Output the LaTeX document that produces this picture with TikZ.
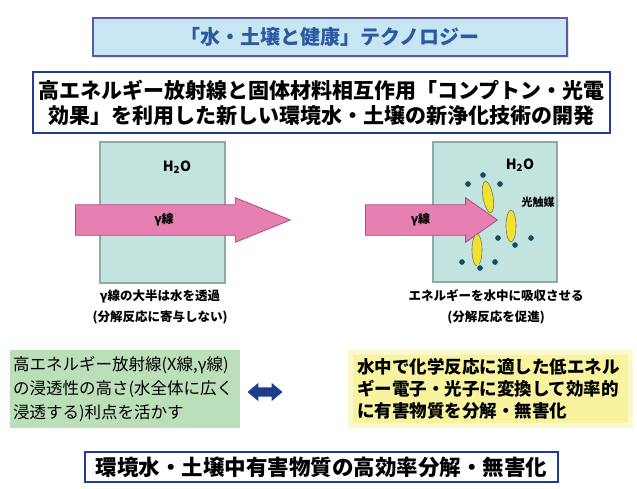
\documentclass[tikz,border=0pt]{standalone}
\usepackage{fontspec}
\setmainfont{Noto Sans CJK JP}
\usetikzlibrary{shapes.arrows,shadows}

\definecolor{titlefill}{HTML}{C8E6F2}
\definecolor{titleline}{HTML}{5A5AA8}
\definecolor{titletext}{HTML}{2C5AA0}
\definecolor{aimline}{HTML}{1F3C96}
\definecolor{waterfill}{HTML}{C2E3DE}
\definecolor{waterline}{HTML}{8FAAA8}
\definecolor{beamfill}{HTML}{E77FB0}
\definecolor{beamline}{HTML}{B04A86}
\definecolor{meritfill}{HTML}{BADFB9}
\definecolor{effectfill}{HTML}{F7F39E}
\definecolor{effectglow}{HTML}{FBF8CC}
\definecolor{twowayfill}{HTML}{1D3E8C}
\definecolor{rodfill}{HTML}{F2E22E}
\definecolor{dotfill}{HTML}{1E4A4A}

\begin{document}
\begin{tikzpicture}[x=1pt, y=-1pt, every node/.style={inner sep=0pt},
    titlebox/.style={draw=titleline, line width=1.6pt, fill=titlefill, text=titletext,
      drop shadow={shadow xshift=2pt, shadow yshift=-2pt, fill=gray!45},
      font=\fontsize{20}{24}\selectfont\bfseries},
    framebox/.style={draw=aimline, line width=2pt, fill=white, align=center,
      font=\fontsize{21}{25}\selectfont\bfseries},
    water/.style={draw=waterline, line width=1.2pt, fill=waterfill},
    beam/.style={single arrow, draw=beamline, fill=beamfill, line width=0.8pt,
      inner xsep=4pt, inner ysep=8.5pt, single arrow head extend=7pt,
      single arrow tip angle=44, font=\fontsize{12}{14}\selectfont\bfseries},
    caption/.style={align=center, font=\fontsize{12.5}{21}\selectfont\bfseries},
    rod/.style={fill=rodfill, draw=black!55, line width=0.6pt},
    dot/.style={fill=dotfill, draw=white!70!cyan, line width=1pt}]
\useasboundingbox (0,0) rectangle (637,488);

\node[titlebox, minimum width=474, minimum height=38] (title) at (330,37)
  {「水・土壌と健康」テクノロジー};
\node[framebox, minimum width=577, minimum height=61] (aim) at (321.5,102.5)
  {高エネルギー放射線と固体材料相互作用「コンプトン・光電\\効果」を利用した新しい環境水・土壌の新浄化技術の開発};

% water without and with the converter
\node[water, minimum width=125, minimum height=141] (waterL) at (162.5,212.5) {};
\node[water, minimum width=124, minimum height=140] (waterR) at (495,212) {};
\node[font=\fontsize{14}{16}\selectfont\bfseries] (h2oL) at (177,167) {H\textsubscript{2}O};
\node[font=\fontsize{14}{16}\selectfont\bfseries] (h2oR) at (520,165) {H\textsubscript{2}O};

\node[beam, anchor=tail, minimum height=215] (beamL) at (75,220) {γ線};
\node[beam, anchor=tail, minimum height=132, single arrow tip angle=70] (beamR) at (365,220) {γ線};

\foreach \x/\y/\r in {488/197/10, 511/226/0, 477/250/0}
  \draw[rod, rotate around={\r:(\x,\y)}] (\x,\y) ellipse (5 and 16);
\foreach \x/\y in {483/175, 468/184, 500/184, 498/238, 515/245, 531/238, 462/262, 480/268, 495/262}
  \draw[dot] (\x,\y) circle (3.5);
\node[font=\fontsize{11}{13}\selectfont\bfseries] (catalyst) at (538,202) {光触媒};

\node[caption] (capL) at (160,307) {γ線の大半は水を透過\\(分解反応に寄与しない)};
\node[caption] (capR) at (496,307) {エネルギーを水中に吸収させる\\(分解反応を促進)};

% merit and effect
\node[fill=meritfill, minimum width=230, minimum height=78, text width=224, align=left,
  font=\fontsize{16.5}{24}\selectfont] (merit) at (125,389)
  {高エネルギー放射線(X線,γ線)\\の浸透性の高さ(水全体に広く\\浸透する)利点を活かす};
\node[double arrow, fill=twowayfill, inner xsep=0pt, inner ysep=4.5pt, minimum height=35,
  double arrow head extend=4.5pt, double arrow tip angle=80] (twoway) at (265,392) {};
\node[fill=effectfill, draw=effectglow, line width=5pt, minimum width=280, minimum height=73,
  text width=266, align=left, font=\fontsize{17.5}{22}\selectfont\bfseries] (effect) at (490,388.5)
  {水中で化学反応に適した低エネル\\ギー電子・光子に変換して効率的\\に有害物質を分解・無害化};

\node[framebox, minimum width=473, minimum height=30, font=\fontsize{21.5}{25}\selectfont\bfseries]
  (goal) at (321.5,467) {環境水・土壌中有害物質の高効率分解・無害化};
\end{tikzpicture}
\end{document}
